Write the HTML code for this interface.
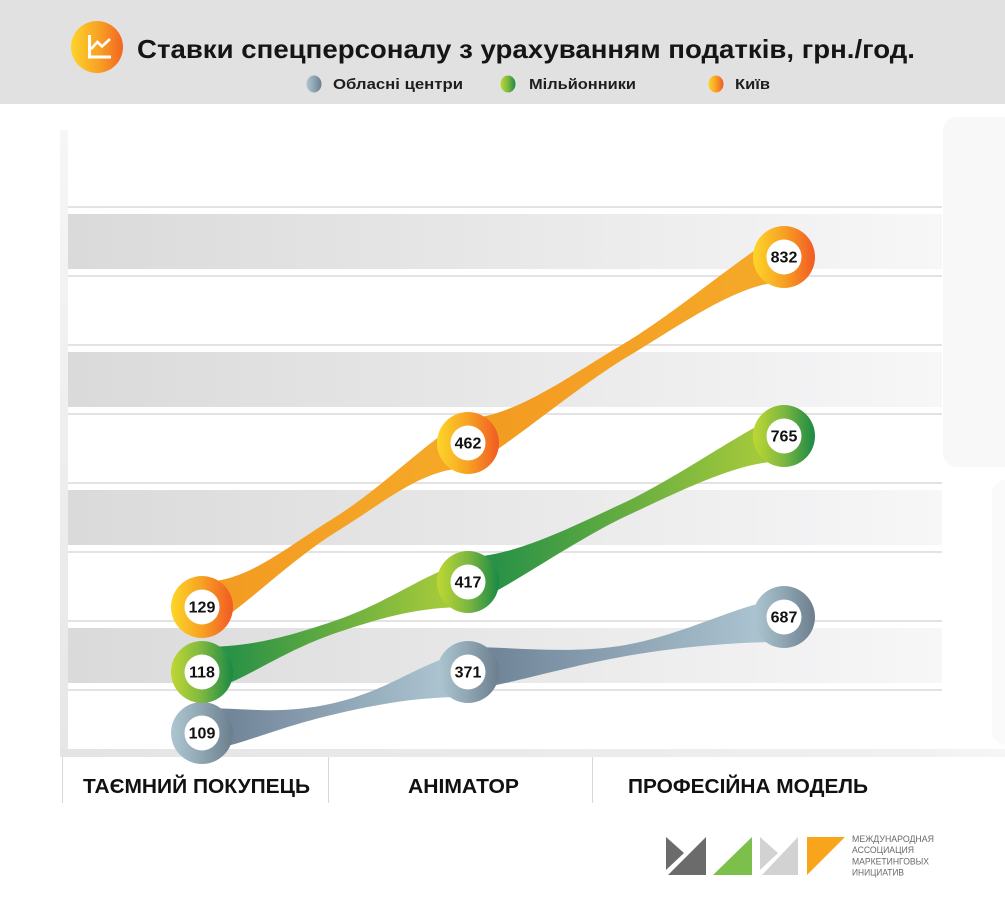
<!DOCTYPE html>
<html>
<head>
<meta charset="utf-8">
<style>
html,body{margin:0;padding:0;background:#fff;width:1005px;height:900px;overflow:hidden}
svg{display:block}
text{font-family:"Liberation Sans",sans-serif}
</style>
</head>
<body>
<svg width="1005" height="900" viewBox="0 0 1005 900" xmlns="http://www.w3.org/2000/svg">
<defs>
  <linearGradient id="band" gradientUnits="userSpaceOnUse" x1="68" y1="0" x2="942" y2="0">
    <stop offset="0" stop-color="#dadada"/>
    <stop offset="0.5" stop-color="#e8e8e9"/>
    <stop offset="1" stop-color="#f7f7f8"/>
  </linearGradient>
  <linearGradient id="leftStrip" x1="0" y1="0" x2="0" y2="1">
    <stop offset="0" stop-color="#f6f6f7"/>
    <stop offset="1" stop-color="#e6e6e6"/>
  </linearGradient>
  <linearGradient id="botStrip" x1="0" y1="0" x2="1" y2="0">
    <stop offset="0" stop-color="#e4e4e4"/>
    <stop offset="0.9" stop-color="#f0f0f0"/>
    <stop offset="1" stop-color="#f6f6f6"/>
  </linearGradient>
  <linearGradient id="ringO" x1="0" y1="0" x2="1" y2="0">
    <stop offset="0" stop-color="#fdd628"/>
    <stop offset="0.5" stop-color="#f7a123"/>
    <stop offset="1" stop-color="#f15a24"/>
  </linearGradient>
  <linearGradient id="ringG" x1="0" y1="0" x2="1" y2="0">
    <stop offset="0" stop-color="#bfd832"/>
    <stop offset="0.5" stop-color="#7cb741"/>
    <stop offset="1" stop-color="#1a8944"/>
  </linearGradient>
  <linearGradient id="ringB" x1="0" y1="0" x2="1" y2="0">
    <stop offset="0" stop-color="#adc6d2"/>
    <stop offset="0.5" stop-color="#8fa5b2"/>
    <stop offset="1" stop-color="#6b7e8d"/>
  </linearGradient>
  <linearGradient id="icon" x1="0" y1="0" x2="1" y2="0">
    <stop offset="0" stop-color="#fdd42a"/>
    <stop offset="0.55" stop-color="#f8a024"/>
    <stop offset="1" stop-color="#f26522"/>
  </linearGradient>
  <linearGradient id="rO1" gradientUnits="userSpaceOnUse" x1="233" y1="0" x2="437" y2="0">
    <stop offset="0" stop-color="#f39c22"/>
    <stop offset="1" stop-color="#f5a828"/>
  </linearGradient>
  <linearGradient id="rO2" gradientUnits="userSpaceOnUse" x1="499" y1="0" x2="753" y2="0">
    <stop offset="0" stop-color="#f39c22"/>
    <stop offset="1" stop-color="#f5a828"/>
  </linearGradient>
  <linearGradient id="rG1" gradientUnits="userSpaceOnUse" x1="233" y1="0" x2="437" y2="0">
    <stop offset="0" stop-color="#2a9246"/>
    <stop offset="1" stop-color="#a2c83b"/>
  </linearGradient>
  <linearGradient id="rG2" gradientUnits="userSpaceOnUse" x1="499" y1="0" x2="753" y2="0">
    <stop offset="0" stop-color="#2a9246"/>
    <stop offset="1" stop-color="#a2c83b"/>
  </linearGradient>
  <linearGradient id="rB1" gradientUnits="userSpaceOnUse" x1="233" y1="0" x2="437" y2="0">
    <stop offset="0" stop-color="#72869a"/>
    <stop offset="1" stop-color="#aac2cf"/>
  </linearGradient>
  <linearGradient id="rB2" gradientUnits="userSpaceOnUse" x1="499" y1="0" x2="753" y2="0">
    <stop offset="0" stop-color="#72869a"/>
    <stop offset="1" stop-color="#aac2cf"/>
  </linearGradient>
</defs>

<!-- header -->
<rect x="0" y="0" width="1005" height="104" fill="#e1e1e1"/>
<circle cx="97" cy="47" r="26" fill="url(#icon)"/>
<path d="M89.5,35 V57 H111" fill="none" stroke="#fff" stroke-width="3"/>
<polyline points="91,49 97.5,42 102,46.5 110,39" fill="none" stroke="#fff" stroke-width="2.6" stroke-linejoin="miter"/>
<text x="137" y="58" font-size="26" font-weight="bold" fill="#151515" textLength="778" lengthAdjust="spacingAndGlyphs">Ставки спецперсоналу з урахуванням податків, грн./год.</text>

<ellipse cx="314" cy="84" rx="7.5" ry="8.5" fill="url(#ringB)"/>
<text x="333" y="89" font-size="15" font-weight="bold" fill="#1e1e1e" textLength="130" lengthAdjust="spacingAndGlyphs">Обласні центри</text>
<ellipse cx="508" cy="84" rx="7.5" ry="8.5" fill="url(#ringG)"/>
<text x="529" y="89" font-size="15" font-weight="bold" fill="#1e1e1e" textLength="107" lengthAdjust="spacingAndGlyphs">Мільйонники</text>
<ellipse cx="716" cy="84" rx="7.5" ry="8.5" fill="url(#ringO)"/>
<text x="735" y="89" font-size="15" font-weight="bold" fill="#1e1e1e" textLength="35" lengthAdjust="spacingAndGlyphs">Київ</text>

<!-- right faint panel -->
<rect x="943" y="117" width="80" height="350" rx="14" fill="#f8f8f9"/>
<rect x="992" y="480" width="30" height="265" rx="14" fill="#fafafa"/>

<!-- chart background -->
<rect x="60" y="130" width="8" height="627" fill="url(#leftStrip)"/>
<rect x="60" y="749" width="945" height="8" fill="url(#botStrip)"/>

<rect x="68" y="214" width="874" height="55" fill="url(#band)"/>
<rect x="68" y="352" width="874" height="55" fill="url(#band)"/>
<rect x="68" y="490" width="874" height="55" fill="url(#band)"/>
<rect x="68" y="628" width="874" height="55" fill="url(#band)"/>

<g fill="#e3e3e3">
  <rect x="68" y="206" width="874" height="2"/>
  <rect x="68" y="275" width="874" height="2"/>
  <rect x="68" y="344" width="874" height="2"/>
  <rect x="68" y="413" width="874" height="2"/>
  <rect x="68" y="482" width="874" height="2"/>
  <rect x="68" y="551" width="874" height="2"/>
  <rect x="68" y="620" width="874" height="2"/>
  <rect x="68" y="689" width="874" height="2"/>
</g>

<!-- ribbons -->
<path fill="url(#rB1)" d="M202,708 C247,708 280.16,715.43 333.77,703.14 C387.38,690.85 418.39,664.32 452.5,656.5 L468,697 C423,697 389.84,701.57 336.23,713.86 C282.62,726.15 251.61,740.68 217.5,748.5 Z"/>
<path fill="url(#rB2)" d="M468,647 C513,647 570.87,654.51 625.06,645.08 C679.25,635.65 734.02,607.5 768.5,601.5 L784,642 C739,642 681.13,646.49 626.94,655.92 C572.75,665.35 517.98,681.5 483.5,687.5 Z"/>
<path fill="url(#rG1)" d="M202,647 C247,647 280.98,638.95 333.08,621.32 C385.18,603.69 419.34,577.72 452.5,566.5 L468,607 C423,607 389.02,615.05 336.92,632.68 C284.82,650.31 250.66,676.28 217.5,687.5 Z"/>
<path fill="url(#rG2)" d="M468,557 C513,557 573.34,526.17 623.27,503.10 C673.20,480.03 736.73,435.18 768.5,420.5 L784,461 C739,461 678.66,491.83 628.73,514.90 C578.80,537.97 515.27,582.82 483.5,597.5 Z"/>
<path fill="url(#rO1)" d="M202,582 C247,582 284.77,548.33 331.59,519.47 C378.41,490.61 422.71,445.87 452.5,427.5 L468,468 C423,468 385.23,501.67 338.41,530.53 C291.59,559.39 247.29,604.13 217.5,622.5 Z"/>
<path fill="url(#rO2)" d="M468,418 C513,418 575.30,372.30 622.70,344.40 C670.10,316.50 738.34,259.25 768.5,241.5 L784,282 C739,282 676.70,327.70 629.30,355.60 C581.90,383.50 513.66,440.75 483.5,458.5 Z"/>

<!-- bubbles -->
<g>
  <circle cx="202" cy="733" r="31" fill="url(#ringB)"/>
  <circle cx="468" cy="672" r="31" fill="url(#ringB)"/>
  <circle cx="784" cy="617" r="31" fill="url(#ringB)"/>
  <circle cx="202" cy="672" r="31" fill="url(#ringG)"/>
  <circle cx="468" cy="582" r="31" fill="url(#ringG)"/>
  <circle cx="784" cy="436" r="31" fill="url(#ringG)"/>
  <circle cx="202" cy="607" r="31" fill="url(#ringO)"/>
  <circle cx="468" cy="443" r="31" fill="url(#ringO)"/>
  <circle cx="784" cy="257" r="31" fill="url(#ringO)"/>
</g>
<g fill="#fff">
  <circle cx="202" cy="733" r="17.5"/>
  <circle cx="468" cy="672" r="17.5"/>
  <circle cx="784" cy="617" r="17.5"/>
  <circle cx="202" cy="672" r="17.5"/>
  <circle cx="468" cy="582" r="17.5"/>
  <circle cx="784" cy="436" r="17.5"/>
  <circle cx="202" cy="607" r="17.5"/>
  <circle cx="468" cy="443" r="17.5"/>
  <circle cx="784" cy="257" r="17.5"/>
</g>
<g font-size="16" font-weight="bold" fill="#111" text-anchor="middle">
  <text x="202" y="738.5">109</text>
  <text x="468" y="677.5">371</text>
  <text x="784" y="622.5">687</text>
  <text x="202" y="677.5">118</text>
  <text x="468" y="587.5">417</text>
  <text x="784" y="441.5">765</text>
  <text x="202" y="612.5">129</text>
  <text x="468" y="448.5">462</text>
  <text x="784" y="262.5">832</text>
</g>

<!-- category axis -->
<g stroke="#d6d6d6" stroke-width="1">
  <line x1="62.5" y1="757" x2="62.5" y2="803"/>
  <line x1="328.5" y1="757" x2="328.5" y2="803"/>
  <line x1="592.5" y1="757" x2="592.5" y2="803"/>
</g>
<g font-size="20" font-weight="bold" fill="#111">
  <text x="83" y="793" textLength="227" lengthAdjust="spacingAndGlyphs">ТАЄМНИЙ ПОКУПЕЦЬ</text>
  <text x="408" y="793" textLength="111" lengthAdjust="spacingAndGlyphs">АНІМАТОР</text>
  <text x="628" y="793" textLength="240" lengthAdjust="spacingAndGlyphs">ПРОФЕСІЙНА МОДЕЛЬ</text>
</g>

<!-- logo -->
<polygon points="666,837 684,853 666,870" fill="#6b6b6b"/>
<polygon points="706,837 706,875 668,875" fill="#6b6b6b"/>
<polygon points="752,837 752,875 713,875" fill="#7cbf4a"/>
<polygon points="760,837 778,853 760,870" fill="#d1d2d1"/>
<polygon points="798,837 798,875 762,875" fill="#d1d2d1"/>
<polygon points="807,837 845,837 807,875" fill="#f9a51b"/>
<g font-size="9.5" fill="#6a6a6a">
  <text x="852" y="842" textLength="82" lengthAdjust="spacingAndGlyphs">МЕЖДУНАРОДНАЯ</text>
  <text x="852" y="853" textLength="62" lengthAdjust="spacingAndGlyphs">АССОЦИАЦИЯ</text>
  <text x="852" y="864.5" textLength="77" lengthAdjust="spacingAndGlyphs">МАРКЕТИНГОВЫХ</text>
  <text x="852" y="875.5" textLength="52" lengthAdjust="spacingAndGlyphs">ИНИЦИАТИВ</text>
</g>
</svg>
</body>
</html>
